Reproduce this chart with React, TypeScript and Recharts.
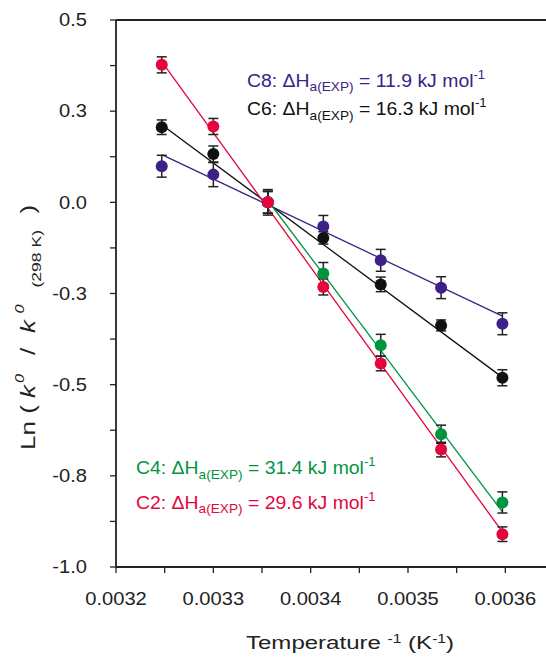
import React from "react";
import { ComposedChart, Line, Scatter, ErrorBar, XAxis, YAxis, ReferenceLine } from "recharts";

// 1/T for 308 K ... 278 K
const X_VALUES = [0.003247, 0.0033, 0.003356, 0.003413, 0.003472, 0.003534, 0.003597];

const C2_Y = [0.377, 0.208, 0, -0.232, -0.442, -0.678, -0.91];
const C2_ERR = [0.022, 0.022, 0.03, 0.022, 0.02, 0.02, 0.02];
const C4_Y = [null, null, 0, -0.195, -0.392, -0.636, -0.823];
const C4_ERR = [null, null, 0.03, 0.03, 0.03, 0.025, 0.029];
const C6_Y = [0.206, 0.1325, 0, -0.0975, -0.225, -0.3375, -0.481];
const C6_ERR = [0.02, 0.022, 0.035, 0.017, 0.02, 0.015, 0.022];
const C8_Y = [0.099, 0.076, 0, -0.066, -0.159, -0.234, -0.333];
const C8_ERR = [0.03, 0.033, 0.03, 0.03, 0.03, 0.03, 0.03];

// fitted lines, end points
const FIT_X = [0.003247, 0.003597];
const C4_FIT_X = [0.003356, 0.003597];
const C2_FIT = [0.386, -0.904];
const C4_FIT = [0.005, -0.849];
const C6_FIT = [0.213, -0.48];
const C8_FIT = [0.131, -0.312];

const X_TICKS = [0.0032, 0.00325, 0.0033, 0.00335, 0.0034, 0.00345, 0.0035, 0.00355, 0.0036, 0.00365];
const X_LABELS = ["0.0032", "", "0.0033", "", "0.0034", "", "0.0035", "", "0.0036", ""];
const Y_TICKS = [-1, -0.875, -0.75, -0.625, -0.5, -0.375, -0.25, -0.125, 0, 0.125, 0.25, 0.375, 0.5];
const Y_LABELS = ["-1.0", "", "-0.8", "", "-0.5", "", "-0.3", "", "0.0", "", "0.3", "", "0.5"];

const RED = "#e3053b";
const GREEN = "#00943f";
const BLACK = "#111111";
const PURPLE = "#3c2188";
const INK = "#222222";
const FONT = "'Liberation Sans', Arial, sans-serif";
const SX = 1.15;

const points = (ys: (number | null)[], errs: (number | null)[]) =>
  X_VALUES.map((x, i) => ({ x, y: ys[i], err: errs[i] })).filter((d) => d.y !== null);
const fit = (xs: number[], ys: number[]) => xs.map((x, i) => ({ x, y: ys[i] }));
const labelFor = (ticks: number[], labels: string[], v: number) => {
  const i = ticks.findIndex((t) => Math.abs(t - v) < 1e-9);
  return i < 0 ? "" : labels[i];
};

const dot = (color: string) => (p: any) => <circle cx={p.cx} cy={p.cy} r={6} fill={color} />;

function XTick({ x, y, payload }: any) {
  const label = labelFor(X_TICKS, X_LABELS, payload.value);
  if (!label) return null;
  return (
    <text transform={`translate(${x},${y}) scale(${SX},1)`} dy="0.71em" textAnchor="middle" fontSize={17.5} fill={INK} fontFamily={FONT}>
      {label}
    </text>
  );
}

function YTick({ x, y, payload }: any) {
  const label = labelFor(Y_TICKS, Y_LABELS, payload.value);
  if (!label) return null;
  return (
    <text transform={`translate(${x},${y}) scale(${SX},1)`} dy="0.355em" textAnchor="end" fontSize={17.5} fill={INK} fontFamily={FONT}>
      {label}
    </text>
  );
}

function Note({ x, y, color, name, value }: any) {
  return (
    <text transform={`translate(${x},${y}) scale(1.05,1)`} fill={color} fontSize={18.5} fontFamily={FONT}>
      {name}: ΔH
      <tspan fontSize={13} dy={4.5}>a(EXP)</tspan>
      <tspan dy={-4.5}> = {value} kJ mol</tspan>
      <tspan fontSize={12.5} dy={-8}>-1</tspan>
    </text>
  );
}

export default function App() {
  return (
    <div style={{ position: "absolute", left: 0, top: 0, width: 546, height: 657, overflow: "hidden", background: "#fff" }}>
      <ComposedChart width={554} height={657} margin={{ top: 20, right: 0, bottom: 0, left: 0 }}>
        <XAxis
          type="number"
          dataKey="x"
          domain={[0.0032, 0.00365]}
          allowDataOverflow
          ticks={X_TICKS}
          interval={0}
          tick={<XTick />}
          tickSize={6}
          tickMargin={20}
          height={90}
          axisLine={{ stroke: INK, strokeWidth: 1.8 }}
          tickLine={{ stroke: INK, strokeWidth: 1.3 }}
        />
        <YAxis
          type="number"
          dataKey="y"
          domain={[-1, 0.5]}
          allowDataOverflow
          ticks={Y_TICKS}
          interval={0}
          tick={<YTick />}
          tickSize={6}
          tickMargin={23}
          width={116}
          axisLine={{ stroke: INK, strokeWidth: 1.8 }}
          tickLine={{ stroke: INK, strokeWidth: 1.3 }}
        />
        <ReferenceLine y={0.5} stroke={INK} strokeWidth={1.8} ifOverflow="visible" />

        <Line data={fit(FIT_X, C8_FIT)} dataKey="y" stroke={PURPLE} strokeWidth={1.3} dot={false} isAnimationActive={false} />
        <Line data={fit(FIT_X, C6_FIT)} dataKey="y" stroke={BLACK} strokeWidth={1.3} dot={false} isAnimationActive={false} />
        <Line data={fit(C4_FIT_X, C4_FIT)} dataKey="y" stroke={GREEN} strokeWidth={1.3} dot={false} isAnimationActive={false} />
        <Line data={fit(FIT_X, C2_FIT)} dataKey="y" stroke={RED} strokeWidth={1.3} dot={false} isAnimationActive={false} />

        <Scatter data={points(C8_Y, C8_ERR)} dataKey="y" shape={dot(PURPLE)} isAnimationActive={false}>
          <ErrorBar dataKey="err" direction="y" width={5} stroke={INK} strokeWidth={1.5} />
        </Scatter>
        <Scatter data={points(C6_Y, C6_ERR)} dataKey="y" shape={dot(BLACK)} isAnimationActive={false}>
          <ErrorBar dataKey="err" direction="y" width={5} stroke={INK} strokeWidth={1.5} />
        </Scatter>
        <Scatter data={points(C4_Y, C4_ERR)} dataKey="y" shape={dot(GREEN)} isAnimationActive={false}>
          <ErrorBar dataKey="err" direction="y" width={5} stroke={INK} strokeWidth={1.5} />
        </Scatter>
        <Scatter data={points(C2_Y, C2_ERR)} dataKey="y" shape={dot(RED)} isAnimationActive={false}>
          <ErrorBar dataKey="err" direction="y" width={5} stroke={INK} strokeWidth={1.5} />
        </Scatter>
      </ComposedChart>

      <svg width={546} height={657} style={{ position: "absolute", left: 0, top: 0, pointerEvents: "none" }}>
        <Note x={247} y={86.5} color={PURPLE} name="C8" value="11.9" />
        <Note x={247} y={115} color={BLACK} name="C6" value="16.3" />
        <Note x={136} y={474} color={GREEN} name="C4" value="31.4" />
        <Note x={136} y={508.5} color={RED} name="C2" value="29.6" />

        <text transform="translate(350,649) scale(1.3,1)" textAnchor="middle" fontSize={18.5} fill={INK} fontFamily={FONT}>
          Temperature <tspan fontSize={12} dy={-6}>-1</tspan>
          <tspan dy={6}> (K</tspan>
          <tspan fontSize={12} dy={-6}>-1</tspan>
          <tspan dy={6}>)</tspan>
        </text>

        <g transform="translate(35,450) rotate(-90) scale(1.3,1)" fill={INK} fontFamily={FONT} fontSize={20}>
          <text x={0}>Ln (</text>
          <text x={40} fontStyle="italic">k</text>
          <text x={51.5} y={-11} fontSize={12.5} fontStyle="italic">0</text>
          <text x={73}>/</text>
          <text x={90} fontStyle="italic">k</text>
          <text x={105} y={-11} fontSize={12.5} fontStyle="italic">0</text>
          <text x={125} y={6} fontSize={13.5}>(298 K)</text>
          <text x={182}>)</text>
        </g>
      </svg>
    </div>
  );
}
